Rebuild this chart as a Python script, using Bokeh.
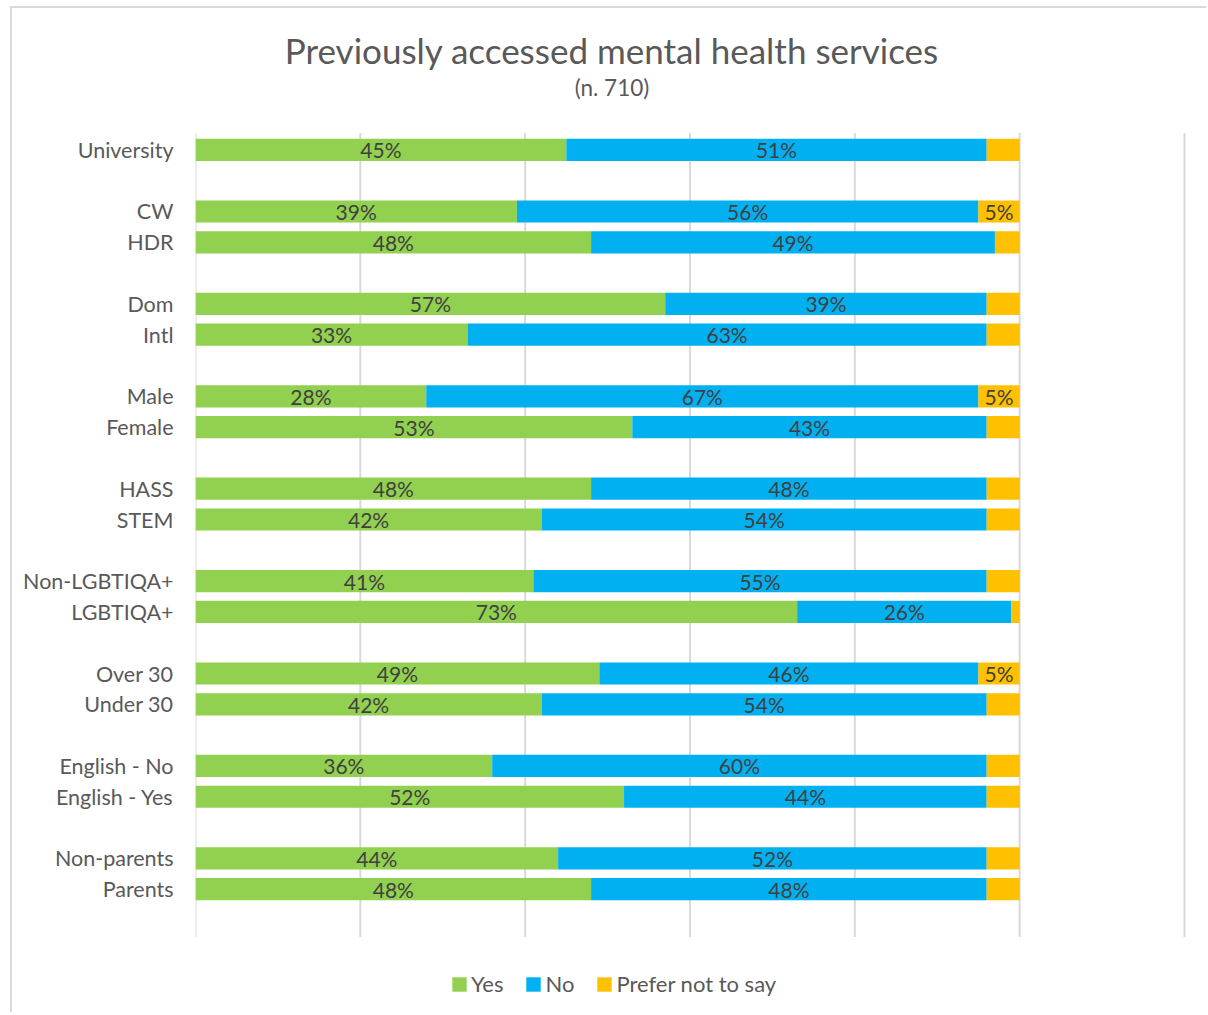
from bokeh.plotting import figure
from bokeh.models import ColumnDataSource, FixedTicker, Range1d, Legend, LegendItem, Label
from bokeh.core.properties import value
from bokeh.embed import file_html
from bokeh.resources import INLINE

categories = ["University", "CW", "HDR", "Dom", "Intl", "Male", "Female", "HASS", "STEM",
              "Non-LGBTIQA+", "LGBTIQA+", "Over 30", "Under 30", "English - No",
              "English - Yes", "Non-parents", "Parents"]
slots = [0, 2, 3, 5, 6, 8, 9, 11, 12, 14, 15, 17, 18, 20, 21, 23, 24]
yes = [45, 39, 48, 57, 33, 28, 53, 48, 42, 41, 73, 49, 42, 36, 52, 44, 48]
no = [51, 56, 49, 39, 63, 67, 43, 48, 54, 55, 26, 46, 54, 60, 44, 52, 48]
prefer = [4, 5, 3, 4, 4, 5, 4, 4, 4, 4, 1, 5, 4, 4, 4, 4, 4]
series = ["Yes", "No", "Prefer not to say"]
colors = ["#92D050", "#00B0F0", "#FFC000"]
grid_ticks = [0, 20, 40, 60, 80, 100, 120]

FONT = "Lato"
GREY = "#595959"

p = figure(width=1196, height=1006, output_backend="svg", toolbar_location=None,
           x_range=Range1d(0, 122.915), y_range=Range1d(28.07, -4.59),
           min_border_left=183, min_border_right=0, min_border_top=0, min_border_bottom=0)
p.styles = {"margin-left": "10px", "margin-top": "6px",
            "border-left": "2px solid #dadada", "border-top": "2px solid #dadada"}
p.outline_line_color = None
p.background_fill_color = "white"
p.border_fill_color = "white"
p.grid.visible = False
p.xaxis.visible = False

# vertical gridlines spanning the category band only
p.segment(x0=grid_ticks, x1=grid_ticks, y0=[-0.55] * len(grid_ticks),
          y1=[25.55] * len(grid_ticks), line_color="#d9d9d9", line_width=2)

src = ColumnDataSource(dict(y=slots, Yes=yes, No=no, Pref=prefer))
renderers = p.hbar_stack(["Yes", "No", "Pref"], y="y", height=0.72, color=colors,
                         line_color=None, source=src)

# data labels
lx, ly, lt = [], [], []
for i, s in enumerate(slots):
    left = 0
    for v in (yes[i], no[i], prefer[i]):
        if v >= 5:
            lx.append(left + v / 2)
            ly.append(s)
            lt.append(f"{v}%")
        left += v
p.text(x=lx, y=ly, text=lt, text_align="center", text_baseline="middle",
       text_font=value(FONT), text_font_size="21px", text_color="#404040")

ax = p.yaxis[0]
ax.ticker = FixedTicker(ticks=slots)
ax.major_label_overrides = {s: c for s, c in zip(slots, categories)}
ax.axis_line_color = None
ax.major_tick_line_color = None
ax.minor_tick_line_color = None
ax.major_label_text_font = FONT
ax.major_label_text_font_size = "21.5px"
ax.major_label_text_color = GREY
ax.major_label_standoff = 16

title = Label(x=50.53, y=-3.252, text="Previously accessed mental health services",
              text_align="center", text_baseline="middle", text_font=FONT,
              text_font_size="35px", text_color=GREY)
sub = Label(x=50.53, y=-2.016, text="(n. 710)",
            text_align="center", text_baseline="middle", text_font=FONT,
            text_font_size="22.5px", text_color=GREY)
p.add_layout(title)
p.add_layout(sub)

legend = Legend(items=[LegendItem(label=series[i], renderers=[renderers[i]]) for i in range(3)],
                orientation="horizontal", location=(255, 17),
                label_text_font=FONT, label_text_font_size="22px", label_text_color=GREY,
                glyph_width=18, glyph_height=18, spacing=21, padding=0, margin=0,
                label_standoff=3, border_line_color=None, background_fill_alpha=0)
p.add_layout(legend, "center")

open("out.html", "w").write(file_html(p, INLINE))
